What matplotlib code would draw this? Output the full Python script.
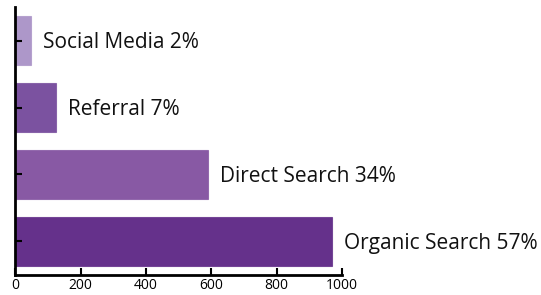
import matplotlib.pyplot as plt
from matplotlib.transforms import offset_copy

# data (bottom to top)
channels = ["Organic Search", "Direct Search", "Referral", "Social Media"]
visits = [970, 591, 125, 48]
shares = [57, 34, 7, 2]
colors = ["#65318b", "#8859a4", "#7b52a0", "#ad97c9"]

plt.rcParams['font.family'] = ['Open Sans', 'DejaVu Sans']

fig = plt.figure(figsize=(5.41, 2.95), dpi=100)
ax = fig.add_axes([0.028, 0.068, 0.604, 0.908])

ypos = range(len(channels))
bars = ax.barh(ypos, visits, height=0.72, color=colors,
               edgecolor=[c + "cc" for c in colors], linewidth=0.8)

label_tf = offset_copy(ax.transData, fig=fig, x=12, y=-2, units='dots')
for y, val, name, pct in zip(ypos, visits, channels, shares):
    ax.text(val, y, f"{name} {pct}%", transform=label_tf,
            ha='left', va='center', fontsize=15, color='#111111', clip_on=False)

ax.set_xlim(0, 1000)
ax.set_ylim(-0.5, 3.5)
ax.set_xticks([0, 200, 400, 600, 800, 1000])
ax.set_yticks(list(ypos))
ax.set_yticklabels([])
ax.tick_params(axis='both', direction='in', length=5, width=1.5, colors='black')
ax.tick_params(axis='x', labelsize=10, pad=2)

for side in ['top', 'right']:
    ax.spines[side].set_visible(False)
for side in ['left', 'bottom']:
    ax.spines[side].set_linewidth(2)

fig.savefig("out.png", dpi=100)
